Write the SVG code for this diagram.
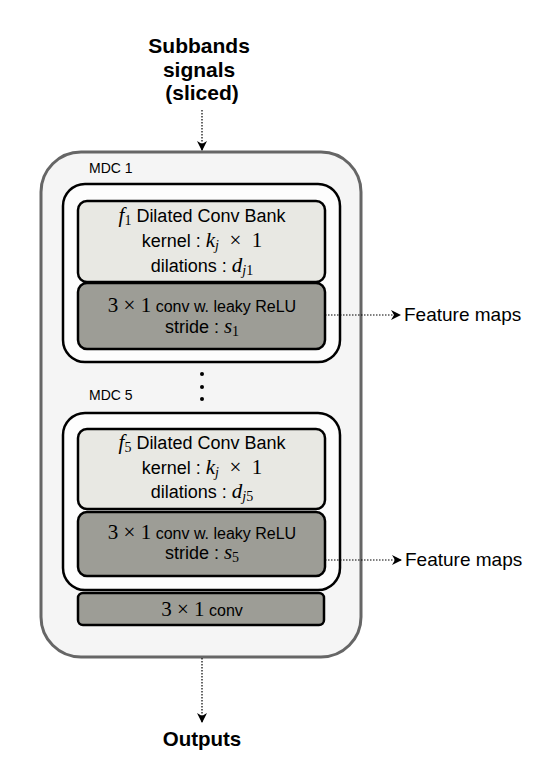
<svg xmlns="http://www.w3.org/2000/svg" width="557" height="783" viewBox="0 0 557 783">
  <defs>
    <marker id="arr" viewBox="0 0 10 10" refX="9" refY="5" markerWidth="10" markerHeight="10" markerUnits="userSpaceOnUse" orient="auto">
      <path d="M0,0 L10,5 L0,10 L3,5 Z" fill="#000"/>
    </marker>
  </defs>
  <style>
    .sans { font-family: "Liberation Sans", Arial, sans-serif; fill: #000; }
    .math { font-family: "Liberation Serif", "Times New Roman", serif; fill: #000; }
    .it { font-style: italic; }
    .bold { font-weight: bold; }
    .outer { fill: #f5f5f5; stroke: #666; stroke-width: 3; }
    .mdc { fill: #fdfdfd; stroke: #000; stroke-width: 2.5; }
    .light { fill: #e8e8e3; stroke: #000; stroke-width: 2.5; }
    .dark { fill: #9d9d96; stroke: #000; stroke-width: 2.5; }
    .conn { fill: none; stroke: #000; stroke-width: 1.2; stroke-dasharray: 1.5 1.5; }
  </style>

  <rect width="557" height="783" fill="#fff"/>

  <g id="input-label">
    <text class="sans bold" font-size="21" text-anchor="middle">
      <tspan x="202" y="53">Subbands</tspan>
      <tspan x="202" y="77">signals</tspan>
      <tspan x="202" y="100">(sliced)</tspan>
    </text>
  </g>

  <g id="mdc-stack">
    <rect class="outer" x="41" y="152" width="320" height="505" rx="40" ry="40"/>
  </g>

  <g id="mdc1">
    <text class="sans" x="89" y="173" font-size="14">MDC 1</text>
    <rect class="mdc" x="63" y="184" width="277" height="178" rx="22" ry="22"/>
    <g id="mdc1-bank">
      <rect class="light" x="78" y="201" width="247" height="81" rx="9" ry="9"/>
      <text x="202" y="222" text-anchor="middle" class="sans" font-size="18"><tspan class="math it" font-size="21">f</tspan><tspan class="math" font-size="14" dy="3">1</tspan><tspan dy="-3"> Dilated Conv Bank</tspan></text>
      <text x="202" y="247" text-anchor="middle" class="sans" font-size="18">kernel : <tspan class="math it" font-size="21">k</tspan><tspan class="math it" font-size="14" dy="3">j</tspan><tspan class="math" font-size="21" dy="-3">&#160;&#160;×&#160;&#160;1</tspan></text>
      <text x="202" y="272" text-anchor="middle" class="sans" font-size="18">dilations : <tspan class="math it" font-size="21">d</tspan><tspan class="math" font-size="14" dy="3"><tspan class="it">j</tspan>1</tspan></text>
    </g>
    <g id="mdc1-conv">
      <rect class="dark" x="78" y="283" width="247" height="66" rx="9" ry="9"/>
      <text x="202" y="312" text-anchor="middle" class="sans" font-size="16"><tspan class="math" font-size="21">3&#160;×&#160;1</tspan> conv w. leaky ReLU</text>
      <text x="202" y="333" text-anchor="middle" class="sans" font-size="18">stride : <tspan class="math it" font-size="21">s</tspan><tspan class="math" font-size="14" dy="3">1</tspan></text>
    </g>
  </g>

  <g id="ellipsis">
    <circle cx="202" cy="374" r="2" fill="#000"/>
    <circle cx="202" cy="387" r="2" fill="#000"/>
    <circle cx="202" cy="399" r="2" fill="#000"/>
  </g>

  <g id="mdc5">
    <text class="sans" x="89" y="400" font-size="14">MDC 5</text>
    <rect class="mdc" x="63" y="413" width="277" height="177" rx="22" ry="22"/>
    <g id="mdc5-bank">
      <rect class="light" x="78" y="429" width="247" height="80" rx="9" ry="9"/>
      <text x="202" y="449" text-anchor="middle" class="sans" font-size="18"><tspan class="math it" font-size="21">f</tspan><tspan class="math" font-size="14" dy="3">5</tspan><tspan dy="-3"> Dilated Conv Bank</tspan></text>
      <text x="202" y="474" text-anchor="middle" class="sans" font-size="18">kernel : <tspan class="math it" font-size="21">k</tspan><tspan class="math it" font-size="14" dy="3">j</tspan><tspan class="math" font-size="21" dy="-3">&#160;&#160;×&#160;&#160;1</tspan></text>
      <text x="202" y="498" text-anchor="middle" class="sans" font-size="18">dilations : <tspan class="math it" font-size="21">d</tspan><tspan class="math" font-size="14" dy="3"><tspan class="it">j</tspan>5</tspan></text>
    </g>
    <g id="mdc5-conv">
      <rect class="dark" x="78" y="512" width="247" height="64" rx="9" ry="9"/>
      <text x="202" y="539" text-anchor="middle" class="sans" font-size="16"><tspan class="math" font-size="21">3&#160;×&#160;1</tspan> conv w. leaky ReLU</text>
      <text x="202" y="559" text-anchor="middle" class="sans" font-size="18">stride : <tspan class="math it" font-size="21">s</tspan><tspan class="math" font-size="14" dy="3">5</tspan></text>
    </g>
  </g>

  <g id="final-conv">
    <rect class="dark" x="78" y="593" width="246" height="32" rx="5" ry="5"/>
    <text x="202" y="616" text-anchor="middle" class="sans" font-size="16"><tspan class="math" font-size="21">3&#160;×&#160;1</tspan> conv</text>
  </g>

  <g id="feature-maps-1">
    <text class="sans" x="404" y="321" font-size="19">Feature maps</text>
  </g>
  <g id="feature-maps-5">
    <text class="sans" x="405" y="566" font-size="19">Feature maps</text>
  </g>

  <g id="outputs">
    <text class="sans bold" x="202" y="746" font-size="20.5" text-anchor="middle">Outputs</text>
  </g>

  <g id="connectors">
    <line class="conn" x1="202" y1="110" x2="202" y2="150" marker-end="url(#arr)"/>
    <line class="conn" x1="325" y1="315" x2="400" y2="315" marker-end="url(#arr)"/>
    <line class="conn" x1="325" y1="560" x2="401" y2="560" marker-end="url(#arr)"/>
    <line class="conn" x1="202" y1="658" x2="202" y2="722" marker-end="url(#arr)"/>
  </g>
</svg>
